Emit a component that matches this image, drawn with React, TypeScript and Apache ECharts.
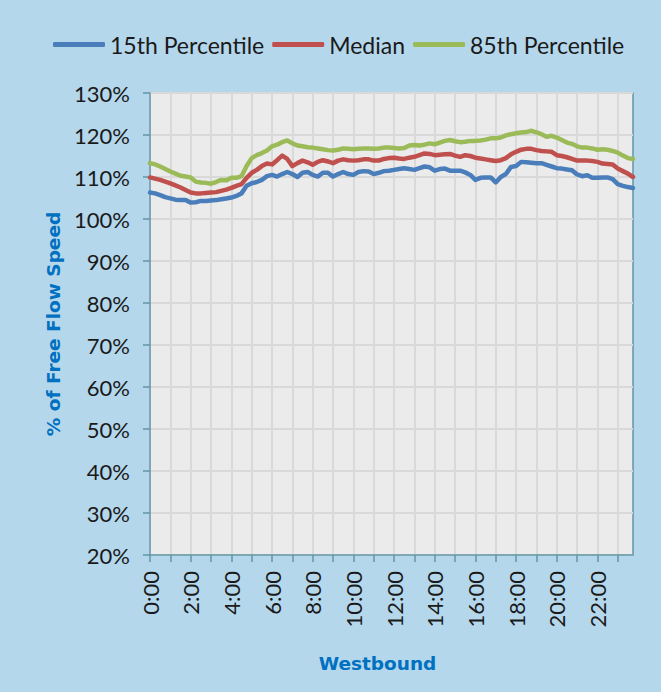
import React, { useEffect, useRef } from "react";
import * as echarts from "echarts";

// 15-minute time categories
const times: string[] = [];
for (let h = 0; h < 24; h++) {
  for (const m of ["00", "15", "30", "45"]) times.push(`${h}:${m}`);
}

const seriesNames = ["15th Percentile", "Median", "85th Percentile"];

const p15: number[] = [
  106.3, 106.1, 105.7, 105.2, 104.9, 104.6, 104.5, 104.5, 103.9, 104.0, 104.3, 104.3,
  104.4, 104.5, 104.7, 104.9, 105.1, 105.5, 106.1, 107.9, 108.5, 108.8, 109.3, 110.2,
  110.5, 110.1, 110.7, 111.2, 110.7, 110.0, 111.0, 111.2, 110.5, 110.1, 111.0, 111.0,
  110.1, 110.7, 111.2, 110.7, 110.5, 111.2, 111.4, 111.3, 110.7, 111.0, 111.4, 111.5,
  111.7, 111.9, 112.1, 111.9, 111.7, 112.1, 112.5, 112.3, 111.5, 111.9, 112.0, 111.5,
  111.5, 111.5, 111.1, 110.5, 109.3, 109.8, 109.9, 109.9, 108.7, 110.0, 110.7, 112.4,
  112.6, 113.6, 113.5, 113.4, 113.3, 113.3, 112.9, 112.5, 112.1, 112.0, 111.8, 111.6,
  110.6, 110.2, 110.4, 109.8, 109.8, 109.9, 109.9, 109.5, 108.3, 107.9, 107.6, 107.4,
];

const median: number[] = [
  109.9, 109.6, 109.3, 108.9, 108.5, 108.0, 107.5, 106.9, 106.3, 106.1, 106.1, 106.2,
  106.3, 106.4, 106.7, 107.0, 107.4, 107.9, 108.3, 109.8, 111.0, 111.7, 112.6, 113.2,
  113.0, 114.0, 115.1, 114.3, 112.6, 113.3, 113.9, 113.5, 112.9, 113.6, 114.0, 113.7,
  113.3, 113.9, 114.2, 114.0, 113.9, 114.0, 114.2, 114.2, 113.9, 113.9, 114.3, 114.5,
  114.6, 114.4, 114.3, 114.6, 114.8, 115.2, 115.6, 115.5, 115.2, 115.3, 115.4, 115.5,
  115.1, 114.8, 115.2, 115.0, 114.6, 114.4, 114.2, 114.0, 113.8, 114.0, 114.5, 115.4,
  116.0, 116.5, 116.7, 116.7, 116.4, 116.2, 116.1, 116.0, 115.2, 115.0, 114.7, 114.3,
  113.9, 113.9, 113.9, 113.8, 113.6, 113.2, 113.1, 113.0, 112.0, 111.4, 110.8, 110.0,
];

const p85: number[] = [
  113.3, 113.0, 112.5, 111.9, 111.3, 110.8, 110.3, 110.1, 109.9, 108.9, 108.7, 108.6,
  108.4, 108.8, 109.3, 109.2, 109.8, 109.8, 110.2, 112.6, 114.5, 115.2, 115.7, 116.3,
  117.3, 117.7, 118.3, 118.7, 118.0, 117.5, 117.3, 117.1, 117.0, 116.8, 116.6, 116.4,
  116.3, 116.5, 116.8, 116.7, 116.6, 116.7, 116.8, 116.8, 116.7, 116.8, 117.0, 117.0,
  116.9, 116.8, 116.9, 117.5, 117.6, 117.5, 117.7, 118.0, 117.8, 118.2, 118.6, 118.8,
  118.5, 118.3, 118.4, 118.6, 118.6, 118.7, 118.9, 119.2, 119.2, 119.4, 119.9, 120.2,
  120.4, 120.6, 120.7, 121.0, 120.6, 120.2, 119.6, 119.8, 119.4, 118.8, 118.2, 117.9,
  117.3, 117.0, 117.0, 116.8, 116.5, 116.6, 116.5, 116.2, 115.8, 115.1, 114.5, 114.3,
];

const colors = ["#4A7EBB", "#C0504D", "#9BBB59"];
const font = "Lato, 'Noto Sans', sans-serif";
const boldFont = "'DejaVu Sans', sans-serif";

export default function App() {
  const ref = useRef<HTMLDivElement>(null);
  useEffect(() => {
    if (!ref.current) return;
    const chart = echarts.init(ref.current, undefined, { renderer: "svg" });
    const dataSets = [p15, median, p85];
    chart.setOption({
      animation: false,
      backgroundColor: "#B4D7EC",
      textStyle: { fontFamily: font },
      legend: {
        top: 28,
        left: 48,
        icon: "roundRect",
        itemWidth: 52,
        itemHeight: 5,
        itemGap: 8,
        textStyle: { fontSize: 23, color: "#1a1a1a", fontFamily: font },
        data: seriesNames,
      },
      grid: {
        left: 150,
        right: 28,
        top: 93,
        bottom: 137,
        show: true,
        backgroundColor: "#EBEBEB",
        borderColor: "#6096A8",
        borderWidth: 1.5,
      },
      xAxis: {
        type: "category",
        data: times,
        boundaryGap: false,
        name: "Westbound",
        nameLocation: "middle",
        nameGap: 99,
        nameTextStyle: {
          fontSize: 18.5,
          fontWeight: "bold",
          color: "#0070C0",
          fontFamily: boldFont,
          padding: [0, 28, 0, 0],
        },
        axisLine: { show: true, lineStyle: { color: "#6096A8", width: 1.5 } },
        axisTick: {
          show: true,
          length: 7,
          interval: (i: number) => i % 4 === 0,
          lineStyle: { color: "#6096A8", width: 1.5 },
        },
        axisLabel: {
          interval: (i: number) => i % 8 === 0,
          rotate: 90,
          margin: 16,
          fontSize: 22,
          color: "#1a1a1a",
          fontFamily: font,
        },
        splitLine: {
          show: true,
          interval: (i: number) => i % 4 === 0,
          lineStyle: { color: "#D9D9D9", width: 2 },
        },
      },
      yAxis: {
        type: "value",
        min: 20,
        max: 130,
        interval: 10,
        name: "% of Free Flow Speed",
        nameLocation: "middle",
        nameGap: 83,
        nameTextStyle: {
          fontSize: 18.5,
          fontWeight: "bold",
          color: "#0070C0",
          fontFamily: boldFont,
        },
        axisLine: { show: true, lineStyle: { color: "#6096A8", width: 1.5 } },
        axisTick: { show: true, length: 7, lineStyle: { color: "#6096A8", width: 1.5 } },
        axisLabel: {
          formatter: "{value}%",
          margin: 20,
          fontSize: 22,
          color: "#1a1a1a",
          fontFamily: font,
        },
        splitLine: { show: true, lineStyle: { color: "#D9D9D9", width: 2 } },
      },
      series: seriesNames.map((name, k) => ({
        name,
        type: "line",
        data: dataSets[k],
        showSymbol: false,
        symbol: "none",
        color: colors[k],
        lineStyle: { width: 4.5, color: colors[k], cap: "round", join: "round" },
      })),
    });
    return () => chart.dispose();
  }, []);
  return (
    <div
      ref={ref}
      style={{ position: "absolute", left: 0, top: 0, width: 661, height: 692 }}
    />
  );
}
